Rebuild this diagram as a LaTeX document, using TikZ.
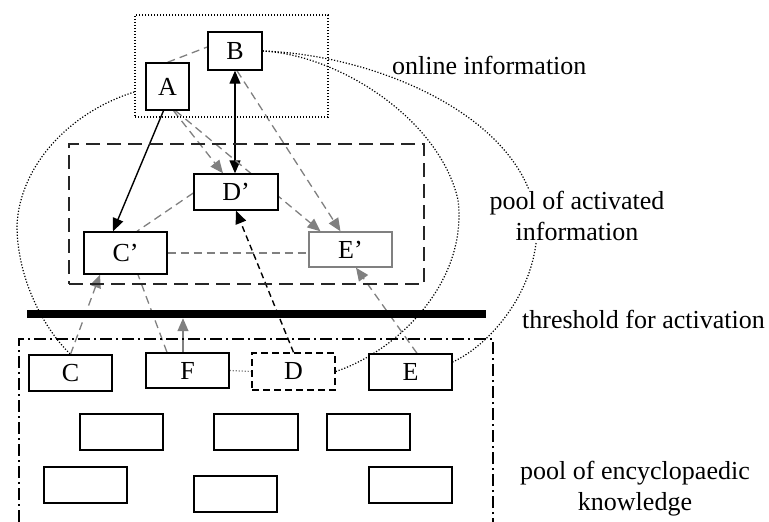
\documentclass[tikz,border=0pt]{standalone}
\usepackage{fontspec}
\setmainfont{Liberation Serif}
\usetikzlibrary{arrows.meta,calc}
\pgfdeclarelayer{bg}
\pgfsetlayers{bg,main}
\begin{document}
\begin{tikzpicture}[x=1pt,y=-1pt,
  font=\fontsize{26}{31}\selectfont,
  box/.style={draw,line width=1.4pt,fill=white,inner sep=0pt,minimum width=83pt,minimum height=36pt},
  gline/.style={draw=black!50,line width=1.3pt,dash pattern=on 8pt off 5pt},
  tip/.style={-{Triangle[length=13pt,width=11pt]}},
  curve/.style={draw=black,line width=1.2pt,dash pattern=on 1.2pt off 1.8pt},
  lbl/.style={fill=white,inner sep=1pt,align=center}]
\useasboundingbox (0,0) rectangle (769,522);

% containers
\node[draw,line width=1.4pt,dash pattern=on 1.4pt off 1.6pt,inner sep=0pt,minimum width=193pt,minimum height=102pt] (onl) at (231.5,66) {};
\node[draw=black!85,line width=1.7pt,dash pattern=on 14pt off 7pt,inner sep=0pt,minimum width=355pt,minimum height=140pt] (act) at (246.5,214) {};
\node[draw,line width=1.4pt,dash pattern=on 12pt off 4pt on 2pt off 4pt,inner sep=0pt,minimum width=474pt,minimum height=201pt] (enc) at (256,439.5) {};

% boxes
\node[box,minimum width=54pt,minimum height=38pt] (B) at (235,51) {B};
\node[box,minimum width=43pt,minimum height=47pt] (A) at (167.5,86.5) {A};
\node[box,minimum width=84pt] (Dp) at (236,192) {D’};
\node[box,minimum height=42pt] (Cp) at (125.5,253) {C’};
\node[box,draw=black!50,minimum height=35pt] (Ep) at (350.5,249.5) {E’};
\node[box] (C) at (70.5,373) {C};
\node[box,minimum height=35pt] (F) at (187.5,370.5) {F};
\node[box,minimum height=37pt,dash pattern=on 7pt off 4pt] (D) at (293.5,371.5) {D};
\node[box] (E) at (410.5,372) {E};
\node[box] (k1) at (121.5,432) {};
\node[box,minimum width=84pt] (k2) at (256,432) {};
\node[box] (k3) at (368.5,432) {};
\node[box] (k4) at (85.5,485) {};
\node[box] (k5) at (235.5,494) {};
\node[box] (k6) at (410.5,485) {};

% threshold bar
\node[fill=black,inner sep=0pt,minimum width=459pt,minimum height=8pt] (bar) at (256.5,314) {};

% labels
\node[lbl,anchor=west] (l1) at (391,65) {online information};
\node[lbl] (l2) at (577,216) {pool of activated\\information};
\node[lbl,anchor=west] (l3) at (521,319) {threshold for activation};
\node[lbl] (l4) at (635,489) {pool of encyclopaedic\\knowledge};

\coordinate (lstart) at ([yshift=-26pt]onl.west);
\coordinate (fs) at ([xshift=-4.5pt]F.north);

\begin{pgfonlayer}{bg}
% dotted curves
\draw[curve] (lstart) .. controls (70,112) and (20,165) .. (17,225)
  .. controls (17,280) and (45,330) .. (C.north);
\draw[curve] (B.east) .. controls (340,55) and (440,120) .. (458,200)
  .. controls (468,280) and (400,350) .. (D.east);
\draw[curve] (B.east) .. controls (380,55) and (530,120) .. (537,225)
  .. controls (538,290) and (490,345) .. ([yshift=10pt]E.east);
\draw[draw=black!50,line width=1.2pt,dash pattern=on 1.2pt off 1.8pt] (F.east) -- (D.west);

% connectors
\draw[gline] (A.north) -- ([yshift=4pt]B.west);
\draw[line width=1.4pt,{Triangle[length=13pt,width=11pt]}-{Triangle[length=13pt,width=11pt]}] (B.south) -- (B.south |- Dp.north);
\draw[line width=1.4pt,tip] ([xshift=-4pt]A.south) -- ([xshift=-12.5pt]Cp.north);
\draw[gline,tip] ([xshift=6pt]A.south) -- ([xshift=-13pt]Dp.north);
\draw[gline,tip] ([xshift=8pt]A.south) -- ([xshift=-30pt]Ep.north);
\draw[gline,tip] ([xshift=2pt]B.south) -- ([xshift=-10pt]Ep.north);
\draw[gline] ([yshift=-1pt]Dp.west) -- ([xshift=11.5pt]Cp.north);
\draw[gline] (Cp.east) -- (Cp.east -| Ep.west);
\draw[line width=1.4pt,dash pattern=on 6pt off 4pt,tip] (D.north) -- (Dp.south);
\draw[gline,tip] (C.north) -- ([xshift=-25.5pt]Cp.south);
\draw[gline] ([xshift=-20.5pt]F.north) -- ([xshift=12.5pt]Cp.south);
\draw[draw=black!50,line width=1.3pt,tip] (fs) -- (fs |- bar.south);
\draw[gline,tip] ([xshift=6.5pt]E.north) -- ([xshift=5.5pt]Ep.south);
\end{pgfonlayer}
\end{tikzpicture}
\end{document}
